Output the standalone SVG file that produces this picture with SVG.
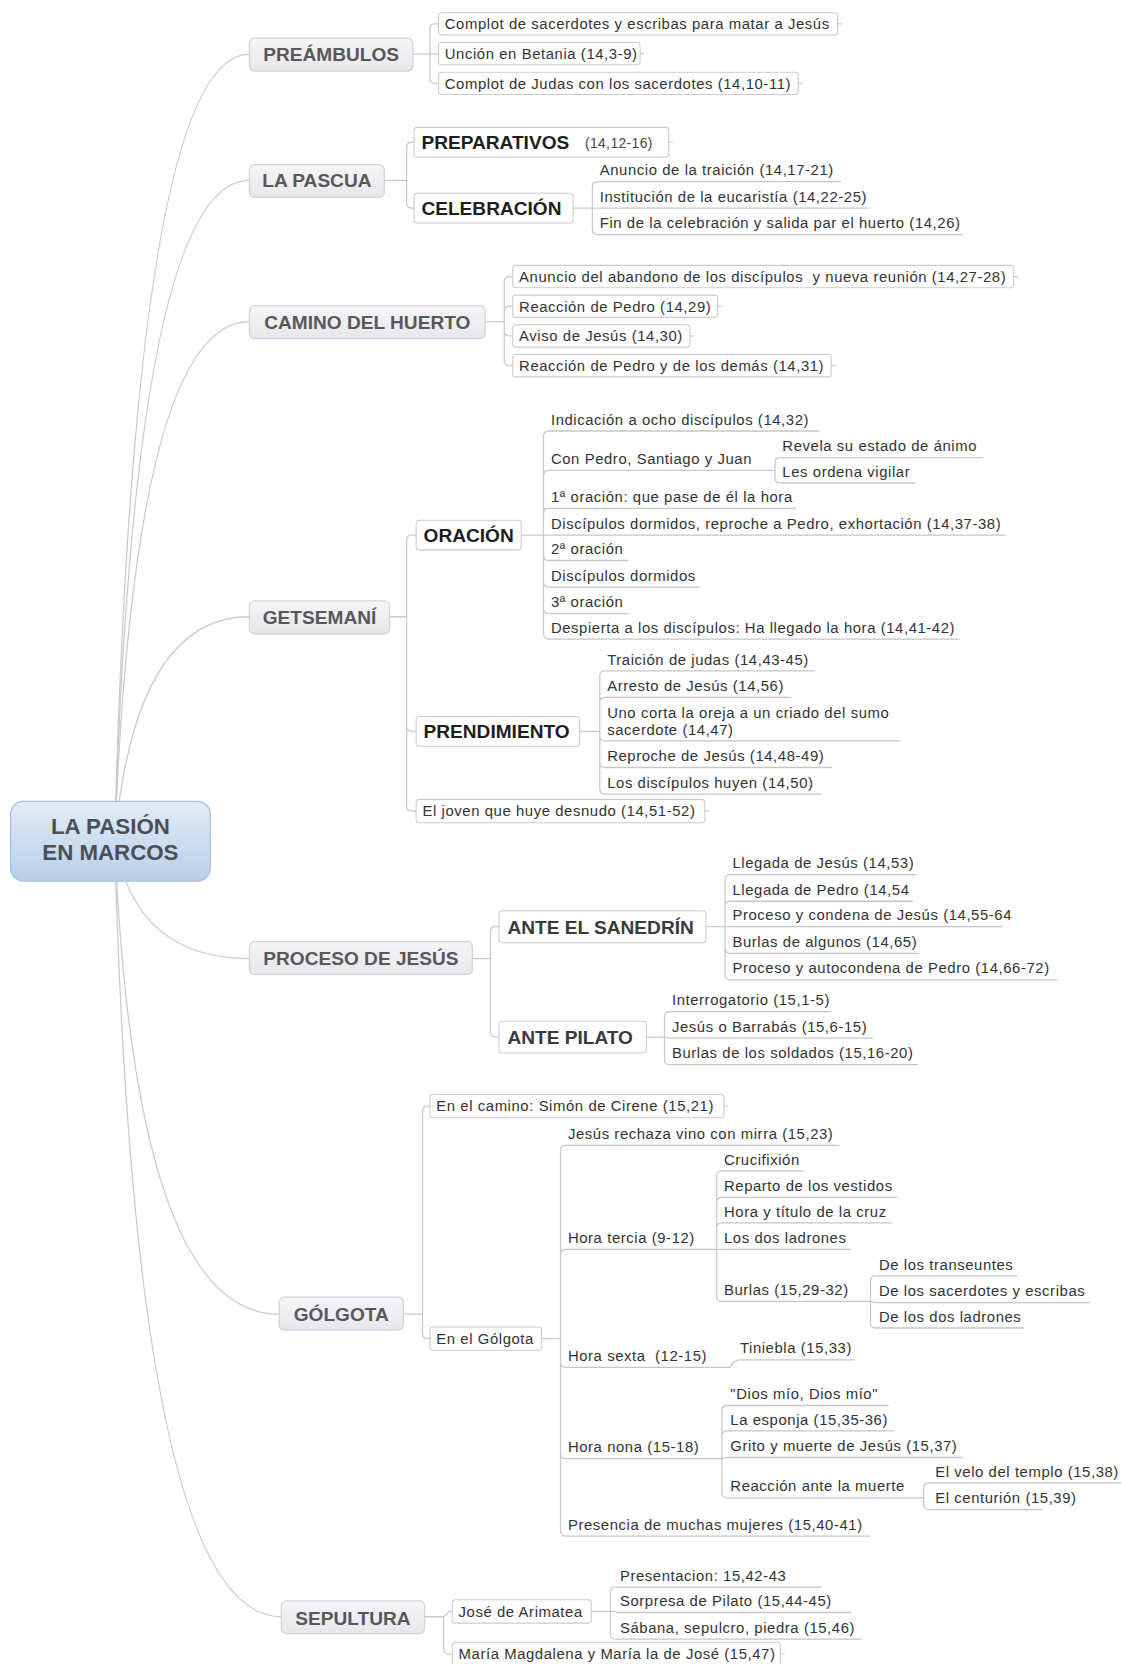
<svg xmlns="http://www.w3.org/2000/svg" width="1121" height="1664" viewBox="0 0 1121 1664">
<defs>
<linearGradient id="gc" x1="0" y1="0" x2="0" y2="1"><stop offset="0" stop-color="#e3ecf7"/><stop offset="1" stop-color="#b7cfea"/></linearGradient>
<linearGradient id="g1" x1="0" y1="0" x2="0" y2="1"><stop offset="0" stop-color="#f6f6f9"/><stop offset="1" stop-color="#e6e6ec"/></linearGradient>
<style>
.c{fill:none;stroke:#cacaca;stroke-width:1.2}
.ul{fill:none;stroke:#c6c6c6;stroke-width:1.2}
.tk{fill:none;stroke:#c6c6c6;stroke-width:1}
.bx{fill:#fff;stroke:#cbcbcb;stroke-width:1}
.l1{fill:url(#g1);stroke:#d2d2d8;stroke-width:1.2}
.t{font-family:"Liberation Sans",Arial,sans-serif;font-size:14px;letter-spacing:0.55px;fill:#333}
.s{font-family:"Liberation Sans",Arial,sans-serif;font-size:13px;letter-spacing:0.4px;fill:#444}
.h1{font-family:"Liberation Sans",Arial,sans-serif;font-size:18px;font-weight:bold;fill:#585858;text-anchor:middle}
.h2{font-family:"Liberation Sans",Arial,sans-serif;font-size:18px;font-weight:bold;fill:#1e1e1e}
.h3{font-family:"Liberation Sans",Arial,sans-serif;font-size:18px;font-weight:bold;fill:#3a3a3a}
.ct{font-family:"Liberation Sans",Arial,sans-serif;font-size:21px;font-weight:bold;fill:#4a4f58;text-anchor:middle}
</style>
</defs>
<g transform="scale(1.06155)">
<g id="connectors">
<path class="c" d="M108 792Q127 51 235 51"/>
<path class="c" d="M108 792Q127 170 235 170"/>
<path class="c" d="M108 792Q127 303 235 303"/>
<path class="c" d="M108 792Q127 581 235 581"/>
<path class="c" d="M108 792Q127 903 235 903"/>
<path class="c" d="M108 792Q127 1238 263 1238"/>
<path class="c" d="M108 792Q127 1523 265 1523"/>
<path class="c" d="M389 51H405V27.5Q405 22.5 410 22.5H413M389 51H413M389 51H405V73.5Q405 78.5 410 78.5H413"/>
<path class="c" d="M362 170H383V139Q383 134 388 134H390M362 170H383V191Q383 196 388 196H390"/>
<path class="c" d="M540 196H558V176Q558 171 563 171M540 196H563M540 196H558V216Q558 221 563 221"/>
<path class="c" d="M457 303H475V265.5Q475 260.5 480 260.5H483M457 303H475V293.5Q475 288.5 480 288.5H483M457 303H475V311.5Q475 316.5 480 316.5H483M457 303H475V339.5Q475 344.5 480 344.5H483"/>
<path class="c" d="M367 581H383V509Q383 504 388 504H392M367 581H383V684Q383 689 388 689H392M367 581H383V759Q383 764 388 764H392"/>
<path class="c" d="M491 504H512V411Q512 406 517 406M491 504H512V448Q512 443 517 443M491 504H512V484Q512 479 517 479M491 504H517M491 504H512V523Q512 528 517 528M491 504H512V548Q512 553 517 553M491 504H512V573Q512 578 517 578M491 504H512V597Q512 602 517 602"/>
<path class="c" d="M730 443V436Q730 431 735 431M730 443V450Q730 455 735 455"/>
<path class="c" d="M546 689H565V637Q565 632 570 632M546 689H565V662Q565 657 570 657M546 689H565V693Q565 698 570 698M546 689H565V718Q565 723 570 723M546 689H565V743Q565 748 570 748"/>
<path class="c" d="M445 903H462V878Q462 873 467 873H470M445 903H462V972Q462 977 467 977H470"/>
<path class="c" d="M665 873H683V829Q683 824 688 824M665 873H683V854Q683 849 688 849M665 873H688M665 873H683V893Q683 898 688 898M665 873H683V918Q683 923 688 923"/>
<path class="c" d="M609 977H626V958Q626 953 631 953M609 977H626L631 978M609 977H626V998Q626 1003 631 1003"/>
<path class="c" d="M380 1238H398V1047Q398 1042 403 1042H405M380 1238H398V1256Q398 1261 403 1261H405"/>
<path class="c" d="M510 1261H528V1084Q528 1079 533 1079M510 1261H528V1182Q528 1177 533 1177M510 1261H528V1283Q528 1288 533 1288M510 1261H528V1369Q528 1374 533 1374M510 1261H528V1442Q528 1447 533 1447"/>
<path class="c" d="M675 1177V1108Q675 1103 680 1103M675 1177V1133Q675 1128 680 1128M675 1177V1157Q675 1152 680 1152M675 1177H680M675 1177V1221Q675 1226 680 1226"/>
<path class="c" d="M820 1226V1207Q820 1202 825 1202M820 1226L825 1227M820 1226V1246Q820 1251 825 1251"/>
<path class="c" d="M688 1288Q691 1281 697 1281"/>
<path class="c" d="M680 1374V1329Q680 1324 685 1324M680 1374V1353Q680 1348 685 1348M680 1374L685 1373M680 1374V1406Q680 1411 685 1411"/>
<path class="c" d="M870 1411V1402Q870 1397 875 1397M870 1411V1417Q870 1422 875 1422"/>
<path class="c" d="M400 1523H418L423 1518H426M400 1523H418V1553Q418 1558 423 1558H426"/>
<path class="c" d="M557 1518H575V1500Q575 1495 580 1495M557 1518H580M557 1518H575V1539Q575 1544 580 1544"/>
</g>

<g id="n-root"><rect x="10" y="755" width="188" height="75" rx="12" fill="url(#gc)" stroke="#a9bfd9" stroke-width="1.2"/><text class="ct" x="104" y="786">LA PASIÓN</text><text class="ct" x="104" y="810">EN MARCOS</text></g>

<g id="n-preambulos"><rect class="l1" x="235" y="36" width="154" height="31" rx="5"/><text class="h1" x="312" y="57.5">PREÁMBULOS</text></g>
<g id="n-complot1"><rect class="bx" x="413" y="12" width="376" height="21" rx="3"/><path class="tk" d="M789 22.5h4"/><text class="t" x="419" y="27.5">Complot de sacerdotes y escribas para matar a Jesús</text></g>
<g id="n-uncion"><rect class="bx" x="413" y="40" width="190" height="21" rx="3"/><path class="tk" d="M603 50.5h4"/><text class="t" x="419" y="55.5">Unción en Betania (14,3-9)</text></g>
<g id="n-complot2"><rect class="bx" x="413" y="68" width="339" height="21" rx="3"/><path class="tk" d="M752 78.5h4"/><text class="t" x="419" y="83.5">Complot de Judas con los sacerdotes (14,10-11)</text></g>

<g id="n-pascua"><rect class="l1" x="235" y="155" width="127" height="31" rx="5"/><text class="h1" x="298.5" y="176.5">LA PASCUA</text></g>
<g id="n-preparativos"><rect class="bx" x="390" y="120" width="240" height="28" rx="3"/><path class="tk" d="M630 134h4"/><text class="h2" x="397" y="140.5">PREPARATIVOS</text><text class="s" x="551" y="139">(14,12-16)</text></g>
<g id="n-celebracion"><rect class="bx" x="390" y="182" width="150" height="28" rx="3"/><text class="h2" x="397" y="202.5">CELEBRACIÓN</text></g>
<g id="n-anuncio"><text class="t" x="565" y="165">Anuncio de la traición (14,17-21)</text><path class="ul" d="M563 171H792"/></g>
<g id="n-institucion"><text class="t" x="565" y="190">Institución de la eucaristía (14,22-25)</text><path class="ul" d="M563 196H818"/></g>
<g id="n-fin"><text class="t" x="565" y="215">Fin de la celebración y salida par el huerto (14,26)</text><path class="ul" d="M563 221H907"/></g>

<g id="n-camino"><rect class="l1" x="235" y="288" width="222" height="31" rx="5"/><text class="h1" x="346" y="309.5">CAMINO DEL HUERTO</text></g>
<g id="n-abandono"><rect class="bx" x="483" y="250" width="472" height="21" rx="3"/><path class="tk" d="M955 260.5h4"/><text class="t" x="489" y="265.5" xml:space="preserve">Anuncio del abandono de los discípulos  y nueva reunión (14,27-28)</text></g>
<g id="n-reaccion1"><rect class="bx" x="483" y="278" width="193" height="21" rx="3"/><path class="tk" d="M676 288.5h4"/><text class="t" x="489" y="293.5">Reacción de Pedro (14,29)</text></g>
<g id="n-aviso"><rect class="bx" x="483" y="306" width="167" height="21" rx="3"/><path class="tk" d="M650 316.5h4"/><text class="t" x="489" y="321.5">Aviso de Jesús (14,30)</text></g>
<g id="n-reaccion2"><rect class="bx" x="483" y="334" width="300" height="21" rx="3"/><path class="tk" d="M783 344.5h4"/><text class="t" x="489" y="349.5">Reacción de Pedro y de los demás (14,31)</text></g>

<g id="n-getsemani"><rect class="l1" x="235" y="566" width="132" height="31" rx="5"/><text class="h1" x="301" y="587.5">GETSEMANÍ</text></g>
<g id="n-oracion"><rect class="bx" x="392" y="490" width="99" height="28" rx="3"/><text class="h2" x="399" y="510.5">ORACIÓN</text></g>
<g id="n-o1"><text class="t" x="519" y="400">Indicación a ocho discípulos (14,32)</text><path class="ul" d="M517 406H772"/></g>
<g id="n-o2"><text class="t" x="519" y="437">Con Pedro, Santiago y Juan</text><path class="ul" d="M517 443H730"/></g>
<g id="n-o2a"><text class="t" x="737" y="425">Revela su estado de ánimo</text><path class="ul" d="M735 431H926"/></g>
<g id="n-o2b"><text class="t" x="737" y="449">Les ordena vigilar</text><path class="ul" d="M735 455H862"/></g>
<g id="n-o3"><text class="t" x="519" y="473">1ª oración: que pase de él la hora</text><path class="ul" d="M517 479H750"/></g>
<g id="n-o4"><text class="t" x="519" y="498">Discípulos dormidos, reproche a Pedro, exhortación (14,37-38)</text><path class="ul" d="M517 504H947"/></g>
<g id="n-o5"><text class="t" x="519" y="522">2ª oración</text><path class="ul" d="M517 528H592"/></g>
<g id="n-o6"><text class="t" x="519" y="547">Discípulos dormidos</text><path class="ul" d="M517 553H660"/></g>
<g id="n-o7"><text class="t" x="519" y="572">3ª oración</text><path class="ul" d="M517 578H592"/></g>
<g id="n-o8"><text class="t" x="519" y="596">Despierta a los discípulos: Ha llegado la hora (14,41-42)</text><path class="ul" d="M517 602H904"/></g>
<g id="n-prendimiento"><rect class="bx" x="392" y="675" width="154" height="28" rx="3"/><text class="h2" x="399" y="695.5">PRENDIMIENTO</text></g>
<g id="n-p1"><text class="t" x="572" y="626">Traición de judas (14,43-45)</text><path class="ul" d="M570 632H767"/></g>
<g id="n-p2"><text class="t" x="572" y="651">Arresto de Jesús (14,56)</text><path class="ul" d="M570 657H745"/></g>
<g id="n-p3"><text class="t" x="572" y="676">Uno corta la oreja a un criado del sumo</text><text class="t" x="572" y="692">sacerdote (14,47)</text><path class="ul" d="M570 698H848"/></g>
<g id="n-p4"><text class="t" x="572" y="717">Reproche de Jesús (14,48-49)</text><path class="ul" d="M570 723H784"/></g>
<g id="n-p5"><text class="t" x="572" y="742">Los discípulos huyen (14,50)</text><path class="ul" d="M570 748H774"/></g>
<g id="n-joven"><rect class="bx" x="392" y="753" width="272" height="22" rx="3"/><path class="tk" d="M664 764h4"/><text class="t" x="398" y="769">El joven que huye desnudo (14,51-52)</text></g>

<g id="n-proceso"><rect class="l1" x="235" y="887" width="210" height="31" rx="5"/><text class="h1" x="340" y="909.5">PROCESO DE JESÚS</text></g>
<g id="n-sanedrin"><rect class="bx" x="470" y="858" width="195" height="30" rx="3"/><text class="h3" x="478" y="879.5">ANTE EL SANEDRÍN</text></g>
<g id="n-s1"><text class="t" x="690" y="818">Llegada de Jesús (14,53)</text><path class="ul" d="M688 824H863"/></g>
<g id="n-s2"><text class="t" x="690" y="843">Llegada de Pedro (14,54</text><path class="ul" d="M688 849H860"/></g>
<g id="n-s3"><text class="t" x="690" y="867">Proceso y condena de Jesús (14,55-64</text><path class="ul" d="M688 873H944"/></g>
<g id="n-s4"><text class="t" x="690" y="892">Burlas de algunos (14,65)</text><path class="ul" d="M688 898H866"/></g>
<g id="n-s5"><text class="t" x="690" y="917">Proceso y autocondena de Pedro (14,66-72)</text><path class="ul" d="M688 923H996"/></g>
<g id="n-pilato"><rect class="bx" x="470" y="962" width="139" height="30" rx="3"/><text class="h3" x="478" y="983.5">ANTE PILATO</text></g>
<g id="n-pi1"><text class="t" x="633" y="947">Interrogatorio (15,1-5)</text><path class="ul" d="M631 953H783"/></g>
<g id="n-pi2"><text class="t" x="633" y="972">Jesús o Barrabás (15,6-15)</text><path class="ul" d="M631 978H822"/></g>
<g id="n-pi3"><text class="t" x="633" y="997">Burlas de los soldados (15,16-20)</text><path class="ul" d="M631 1003H865"/></g>

<g id="n-golgota"><rect class="l1" x="263" y="1222" width="117" height="31" rx="5"/><text class="h1" x="321.5" y="1244.5">GÓLGOTA</text></g>
<g id="n-camino2"><rect class="bx" x="405" y="1031" width="277" height="22" rx="3"/><path class="tk" d="M682 1042h4"/><text class="t" x="411" y="1047">En el camino: Simón de Cirene (15,21)</text></g>
<g id="n-engolgota"><rect class="bx" x="405" y="1250" width="105" height="22" rx="3"/><text class="t" x="411" y="1266">En el Gólgota</text></g>
<g id="n-g1"><text class="t" x="535" y="1073">Jesús rechaza vino con mirra (15,23)</text><path class="ul" d="M533 1079H790"/></g>
<g id="n-tercia"><text class="t" x="535" y="1171">Hora tercia (9-12)</text><path class="ul" d="M533 1177H675"/></g>
<g id="n-t1"><text class="t" x="682" y="1097">Crucifixión</text><path class="ul" d="M680 1103H757"/></g>
<g id="n-t2"><text class="t" x="682" y="1122">Reparto de los vestidos</text><path class="ul" d="M680 1128H845"/></g>
<g id="n-t3"><text class="t" x="682" y="1146">Hora y título de la cruz</text><path class="ul" d="M680 1152H840"/></g>
<g id="n-t4"><text class="t" x="682" y="1171">Los dos ladrones</text><path class="ul" d="M680 1177H802"/></g>
<g id="n-t5"><text class="t" x="682" y="1220">Burlas (15,29-32)</text><path class="ul" d="M680 1226H820"/></g>
<g id="n-b1"><text class="t" x="828" y="1196">De los transeuntes</text><path class="ul" d="M825 1202H958"/></g>
<g id="n-b2"><text class="t" x="828" y="1221">De los sacerdotes y escribas</text><path class="ul" d="M825 1227H1027"/></g>
<g id="n-b3"><text class="t" x="828" y="1245">De los dos ladrones</text><path class="ul" d="M825 1251H965"/></g>
<g id="n-sexta"><text class="t" x="535" y="1282" xml:space="preserve">Hora sexta  (12-15)</text><path class="ul" d="M533 1288H688"/></g>
<g id="n-tiniebla"><text class="t" x="697" y="1275">Tiniebla (15,33)</text><path class="ul" d="M697 1281H805"/></g>
<g id="n-nona"><text class="t" x="535" y="1368">Hora nona (15-18)</text><path class="ul" d="M533 1374H680"/></g>
<g id="n-n1"><text class="t" x="688" y="1318">"Dios mío, Dios mío"</text><path class="ul" d="M685 1324H837"/></g>
<g id="n-n2"><text class="t" x="688" y="1342">La esponja (15,35-36)</text><path class="ul" d="M685 1348H842"/></g>
<g id="n-n3"><text class="t" x="688" y="1367">Grito y muerte de Jesús (15,37)</text><path class="ul" d="M685 1373H907"/></g>
<g id="n-n4"><text class="t" x="688" y="1405">Reacción ante la muerte</text><path class="ul" d="M685 1411H870"/></g>
<g id="n-r1"><text class="t" x="881" y="1391">El velo del templo (15,38)</text><path class="ul" d="M875 1397H1056"/></g>
<g id="n-r2"><text class="t" x="881" y="1416">El centurión (15,39)</text><path class="ul" d="M875 1422H982"/></g>
<g id="n-mujeres"><text class="t" x="535" y="1441">Presencia de muchas mujeres (15,40-41)</text><path class="ul" d="M533 1447H820"/></g>

<g id="n-sepultura"><rect class="l1" x="265" y="1508" width="135" height="31" rx="5"/><text class="h1" x="332.5" y="1530.5">SEPULTURA</text></g>
<g id="n-jose"><rect class="bx" x="426" y="1507" width="131" height="22" rx="3"/><text class="t" x="432" y="1523">José de Arimatea</text></g>
<g id="n-j1"><text class="t" x="584" y="1489">Presentacion: 15,42-43</text><path class="ul" d="M580 1495H774"/></g>
<g id="n-j2"><text class="t" x="584" y="1513">Sorpresa de Pilato (15,44-45)</text><path class="ul" d="M580 1519H802"/></g>
<g id="n-j3"><text class="t" x="584" y="1538">Sábana, sepulcro, piedra (15,46)</text><path class="ul" d="M580 1544H812"/></g>
<g id="n-maria"><rect class="bx" x="426" y="1547" width="309" height="22" rx="3"/><path class="tk" d="M735 1558h4"/><text class="t" x="432" y="1563">María Magdalena y María la de José (15,47)</text></g>
</g>
</svg>
